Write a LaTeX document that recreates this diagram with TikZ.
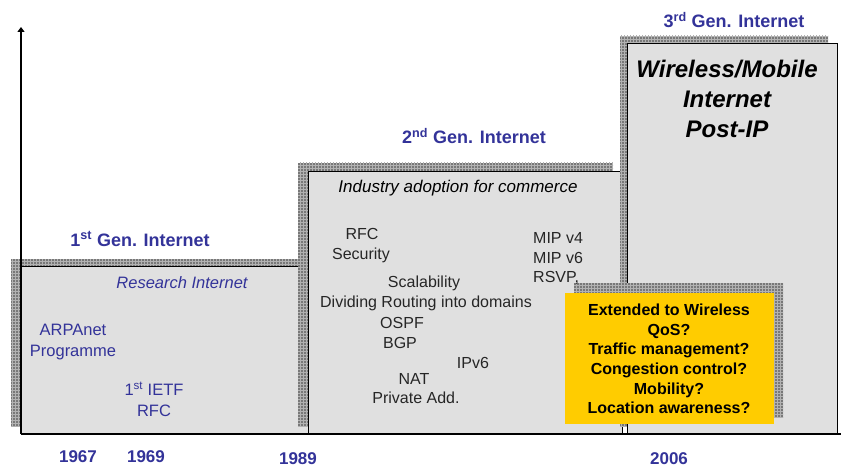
\documentclass[tikz,border=0pt]{standalone}
\usepackage{fontspec}
\setmainfont{Liberation Sans}
\usetikzlibrary{patterns,arrows.meta}
\definecolor{genblue}{RGB}{51,51,153}
\definecolor{boxgray}{RGB}{224,224,224}
\definecolor{shadowgray}{RGB}{120,120,120}
\definecolor{qyellow}{RGB}{255,204,0}
\tikzset{
  shadowbox/.style={fill=shadowgray, postaction={pattern=grid, pattern color=black!30}},
  erabox/.style={fill=boxgray, draw=black, line width=0.9pt},
  gen/.style={font=\fontsize{18}{21}\selectfont\bfseries, text=genblue, inner sep=0pt},
  year/.style={font=\fontsize{17}{20}\selectfont\bfseries, text=genblue, inner sep=0pt},
  bluetext/.style={font=\fontsize{16.5}{21}\selectfont, text=genblue, align=center, inner sep=0pt},
  blueital/.style={font=\fontsize{16.5}{20}\selectfont\itshape, text=genblue, inner sep=0pt},
  heading/.style={font=\fontsize{17}{20}\selectfont\itshape, text=black, inner sep=0pt},
  item/.style={font=\fontsize{16}{19}\selectfont, text=black!85, inner sep=0pt},
  qtext/.style={font=\fontsize{16}{19.6}\selectfont\bfseries, align=center, inner sep=0pt},
  bigtext/.style={font=\fontsize{24}{30}\selectfont\bfseries\itshape, align=center, inner sep=0pt},
  axisline/.style={line width=2.4pt, black}
}
\begin{document}
\begin{tikzpicture}[x=1pt,y=-1pt]
\useasboundingbox (0,0) rectangle (841,468);

% first generation
\fill[shadowbox] (11,259) rectangle (298,426);
\fill[boxgray] (21,266) rectangle (308,433);
\draw[line width=0.9pt] (21,266) -- (308,266);

% second generation
\fill[shadowbox] (298,163) rectangle (613,426);
\filldraw[erabox] (308,171) rectangle (622,433);

% third generation
\fill[shadowbox] (620,36) rectangle (828,426);
\filldraw[erabox] (627,43) rectangle (837,433);

% open questions box
\fill[shadowbox] (574,283) rectangle (783,417);
\fill[qyellow] (565,293) rectangle (774,424);

% axes
\coordinate (origin) at (21,434);
\coordinate (ytop) at (21,27);
\coordinate (xend) at (841,434);
\draw[axisline, -{Triangle[width=7pt,length=5pt]}] (origin) -- (ytop);
\draw[axisline] (origin) -- (xend);

% generation titles
\node[gen] (g1) at (140,239) {1\textsuperscript{st} Gen. Internet};
\node[gen] (g2) at (474,136) {2\textsuperscript{nd} Gen. Internet};
\node[gen] (g3) at (734,20) {3\textsuperscript{rd} Gen. Internet};

% years
\node[year] (y1) at (78,457) {1967};
\node[year] (y2) at (146,457) {1969};
\node[year] (y3) at (298,459) {1989};
\node[year] (y4) at (669,459) {2006};

% first generation content
\node[blueital] (research) at (182,283) {Research Internet};
\node[bluetext] (arpa) at (73,342) {ARPAnet\\Programme};
\node[bluetext] (ietf) at (154,399) {1\textsuperscript{st} IETF\\RFC};

% second generation content
\node[heading] (industry) at (458,188) {Industry adoption for commerce};
\node[item] (rfc) at (362,234) {RFC};
\node[item] (security) at (361,255) {Security};
\node[item] (scal) at (424,283) {Scalability};
\node[item] (divide) at (426,303) {Dividing Routing into domains};
\node[item] (ospf) at (402,323) {OSPF};
\node[item] (bgp) at (400,343) {BGP};
\node[item] (ipv6) at (473,363) {IPv6};
\node[item] (nat) at (414,379) {NAT};
\node[item] (private) at (416,398) {Private Add.};
\node[item, anchor=west] (mip4) at (533,238) {MIP v4};
\node[item, anchor=west] (mip6) at (533,258) {MIP v6};
\node[item, anchor=west] (rsvp) at (533,278) {RSVP,};

% third generation content
\node[bigtext] (wireless) at (727,99) {Wireless/Mobile\\Internet\\Post-IP};
\node[qtext] (questions) at (669,359) {Extended to Wireless\\QoS?\\Traffic management?\\Congestion control?\\Mobility?\\Location awareness?};
\end{tikzpicture}
\end{document}
